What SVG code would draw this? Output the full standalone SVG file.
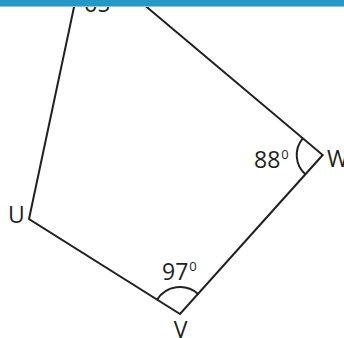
<svg xmlns="http://www.w3.org/2000/svg" width="344" height="338" viewBox="0 0 344 338">
<style>
.edge{fill:none;stroke:#231f20;stroke-width:2;stroke-linejoin:miter}
.arc{fill:none;stroke:#231f20;stroke-width:2}
.lbl{font-family:"Open Sans","Noto Sans","Liberation Sans",sans-serif;font-size:23px;fill:#231f20}
.sup{font-size:13px}
</style>
<rect x="0" y="0" width="344" height="338" fill="#ffffff"/>
<g id="connectors">
<path class="edge" d="M75.5,0 L29,219 L180,314 L322.7,155 L138.4,0"/>
</g>
<g id="angle-V">
<path class="arc" d="M157.15,299.62 A27,27 0 0 1 198.04,293.9"/>
<text class="lbl" x="162" y="280">97<tspan class="sup" dx="1" dy="-9">0</tspan></text>
</g>
<g id="angle-W">
<path class="arc" d="M302.8,138.3 A26,26 0 0 0 305.3,174.3"/>
<text class="lbl" x="254" y="168.3">88<tspan class="sup" dx="1" dy="-9">0</tspan></text>
</g>
<g id="node-U"><text class="lbl" x="8" y="222.5">U</text></g>
<g id="node-V"><text class="lbl" x="180.5" y="337.5" text-anchor="middle">V</text></g>
<g id="node-W"><text class="lbl" x="327" y="166.5">W</text></g>
<g id="angle-top"><text class="lbl" x="84" y="11.7">65</text></g>
<g id="band">
<rect x="0" y="0" width="344" height="6" fill="#2499c7"/>
<rect x="0" y="6" width="344" height="1" fill="#8cc6e0"/>
</g>
</svg>
